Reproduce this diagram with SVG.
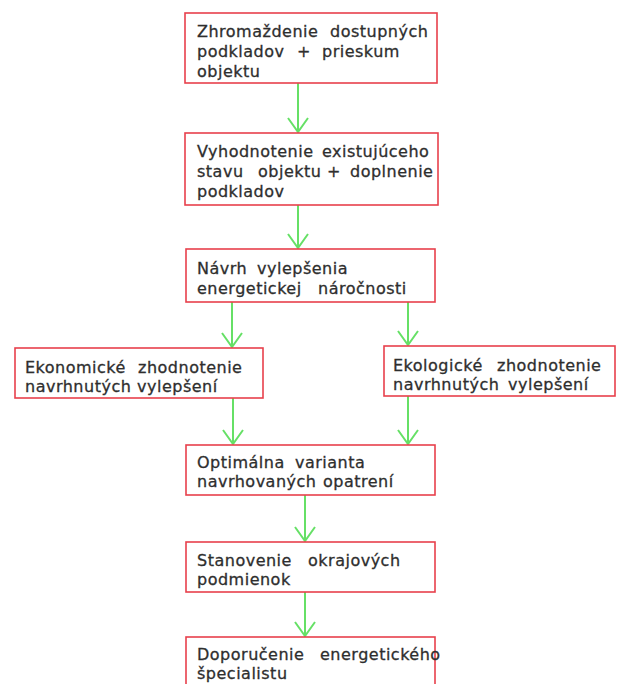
<svg xmlns="http://www.w3.org/2000/svg" width="620" height="684" viewBox="0 0 620 684">
<style>
.box{fill:#fff;stroke:#e8404c;stroke-width:1.6}
.t{font-family:"DejaVu Sans",sans-serif;font-size:16px;letter-spacing:0.5px;fill:#2e2e2e;stroke:#2e2e2e;stroke-width:0.3}
.c{stroke:#66e066;stroke-width:2;fill:none}
</style>
<defs>
<marker id="ah" markerUnits="userSpaceOnUse" markerWidth="18" markerHeight="26" viewBox="-16 -13 18 26" refX="0" refY="0" orient="auto">
<path d="M-14,-10 L0,0 L-14,10" fill="none" stroke="#66e066" stroke-width="2"/>
</marker>
</defs>
<rect width="620" height="684" fill="#fff"/>
<g id="connectors">
<line class="c" x1="298" y1="83" x2="298" y2="132" marker-end="url(#ah)"/>
<line class="c" x1="298" y1="205" x2="298" y2="248" marker-end="url(#ah)"/>
<line class="c" x1="232" y1="302" x2="232" y2="347" marker-end="url(#ah)"/>
<line class="c" x1="408" y1="302" x2="408" y2="345" marker-end="url(#ah)"/>
<line class="c" x1="233" y1="398" x2="233" y2="444" marker-end="url(#ah)"/>
<line class="c" x1="408" y1="396" x2="408" y2="444" marker-end="url(#ah)"/>
<line class="c" x1="305" y1="495" x2="305" y2="541" marker-end="url(#ah)"/>
<line class="c" x1="305" y1="592" x2="305" y2="636" marker-end="url(#ah)"/>
</g>
<g id="n1">
<rect class="box" x="185" y="13" width="252" height="70"/>
<text class="t"><tspan x="197" y="37">Zhromaždenie</tspan><tspan x="330" y="37">dostupných</tspan><tspan x="197" y="57">podkladov</tspan><tspan x="297" y="57">+</tspan><tspan x="322" y="57">prieskum</tspan><tspan x="197" y="77">objektu</tspan></text>
</g>
<g id="n2">
<rect class="box" x="185" y="133" width="253" height="72"/>
<text class="t"><tspan x="197" y="157">Vyhodnotenie</tspan><tspan x="322" y="157">existujúceho</tspan><tspan x="197" y="177">stavu</tspan><tspan x="258" y="177">objektu</tspan><tspan x="327" y="177">+</tspan><tspan x="350" y="177">doplnenie</tspan><tspan x="197" y="197">podkladov</tspan></text>
</g>
<g id="n3">
<rect class="box" x="186" y="249" width="249" height="53"/>
<text class="t"><tspan x="197" y="274">Návrh</tspan><tspan x="257" y="274">vylepšenia</tspan><tspan x="197" y="294">energetickej</tspan><tspan x="318" y="294">náročnosti</tspan></text>
</g>
<g id="n4">
<rect class="box" x="15" y="348" width="248" height="50"/>
<text class="t"><tspan x="25" y="373">Ekonomické</tspan><tspan x="138" y="373">zhodnotenie</tspan><tspan x="25" y="392">navrhnutých</tspan><tspan x="137" y="392">vylepšení</tspan></text>
</g>
<g id="n5">
<rect class="box" x="384" y="346" width="231" height="50"/>
<text class="t"><tspan x="393" y="371">Ekologické</tspan><tspan x="497" y="371">zhodnotenie</tspan><tspan x="393" y="390">navrhnutých</tspan><tspan x="508" y="390">vylepšení</tspan></text>
</g>
<g id="n6">
<rect class="box" x="186" y="445" width="249" height="50"/>
<text class="t"><tspan x="197" y="468">Optimálna</tspan><tspan x="295" y="468">varianta</tspan><tspan x="197" y="487">navrhovaných</tspan><tspan x="323" y="487">opatrení</tspan></text>
</g>
<g id="n7">
<rect class="box" x="186" y="542" width="249" height="50"/>
<text class="t"><tspan x="197" y="566">Stanovenie</tspan><tspan x="308" y="566">okrajových</tspan><tspan x="197" y="585">podmienok</tspan></text>
</g>
<g id="n8">
<rect class="box" x="186" y="637" width="249" height="60"/>
<text class="t"><tspan x="197" y="660">Doporučenie</tspan><tspan x="320" y="660">energetického</tspan><tspan x="197" y="679">špecialistu</tspan></text>
</g>
</svg>
